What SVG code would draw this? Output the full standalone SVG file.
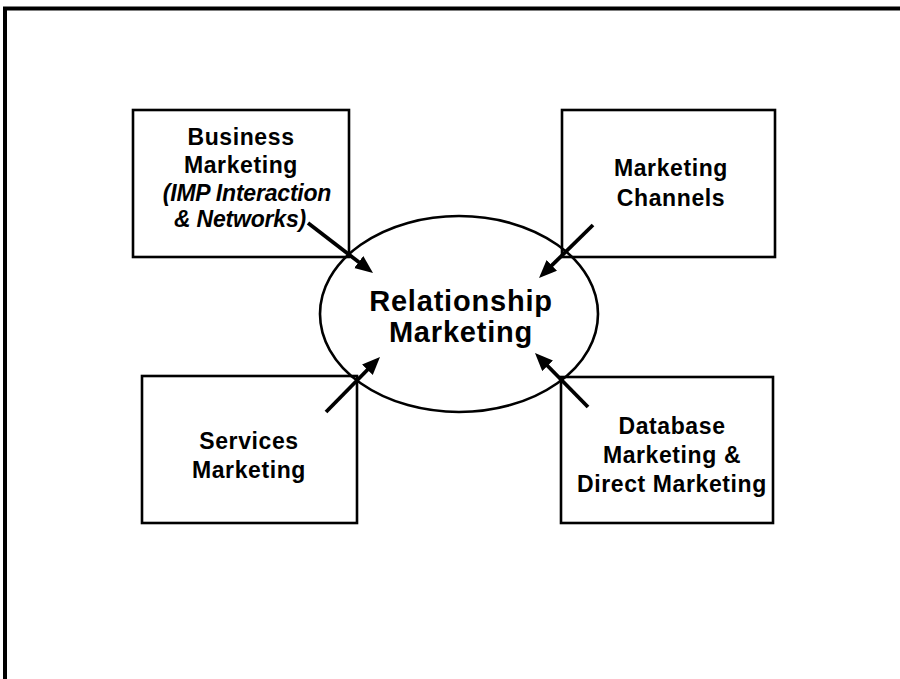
<svg xmlns="http://www.w3.org/2000/svg" width="900" height="679" viewBox="0 0 900 679">
<defs>
<style>
.box{fill:#fff;stroke:#000;stroke-width:2.6}
.t{font-family:"Liberation Sans",Arial,sans-serif;font-weight:bold;font-size:23px;letter-spacing:0.6px;text-anchor:middle;fill:#000}
.ti{font-style:italic;letter-spacing:-0.2px}
.big{font-size:29px;letter-spacing:0.8px}
.arr{stroke:#000;stroke-width:3.8;fill:none;marker-end:url(#ah)}
</style>
<marker id="ah" markerUnits="userSpaceOnUse" markerWidth="20" markerHeight="16" refX="4" refY="7.5" orient="auto">
<path d="M0,0 L18,7.5 L0,15 z" fill="#000"/>
</marker>
</defs>
<rect width="900" height="679" fill="#fff"/>
<path d="M5,679 V8.5 H900" fill="none" stroke="#000" stroke-width="4"/>
<g id="business">
<rect class="box" x="133" y="110" width="216" height="147"/>
<text class="t" x="241" y="145">Business</text>
<text class="t" x="241" y="173">Marketing</text>
<text class="t ti" x="247" y="201">(IMP Interaction</text>
<text class="t ti" x="240" y="227">&amp; Networks)</text>
</g>
<g id="channels">
<rect class="box" x="562" y="110" width="213" height="147"/>
<text class="t" x="671" y="176">Marketing</text>
<text class="t" x="671" y="206">Channels</text>
</g>
<g id="services">
<rect class="box" x="142" y="376" width="215" height="147"/>
<text class="t" x="249" y="449">Services</text>
<text class="t" x="249" y="478">Marketing</text>
</g>
<g id="database">
<rect class="box" x="561" y="377" width="212" height="146"/>
<text class="t" x="672" y="434">Database</text>
<text class="t" x="672" y="463">Marketing &amp;</text>
<text class="t" x="672" y="492">Direct Marketing</text>
</g>
<g id="relationship">
<ellipse cx="459" cy="314" rx="139" ry="98" fill="none" stroke="#000" stroke-width="2.6"/>
<text class="t big" x="461" y="311">Relationship</text>
<text class="t big" x="461" y="342">Marketing</text>
</g>
<g id="connectors">
<line class="arr" x1="308" y1="223" x2="361.9" y2="264.5"/>
<line class="arr" x1="593" y1="225" x2="549" y2="268.2"/>
<line class="arr" x1="326" y1="412" x2="370.2" y2="367"/>
<line class="arr" x1="588" y1="407" x2="544.8" y2="363"/>
</g>
</svg>
